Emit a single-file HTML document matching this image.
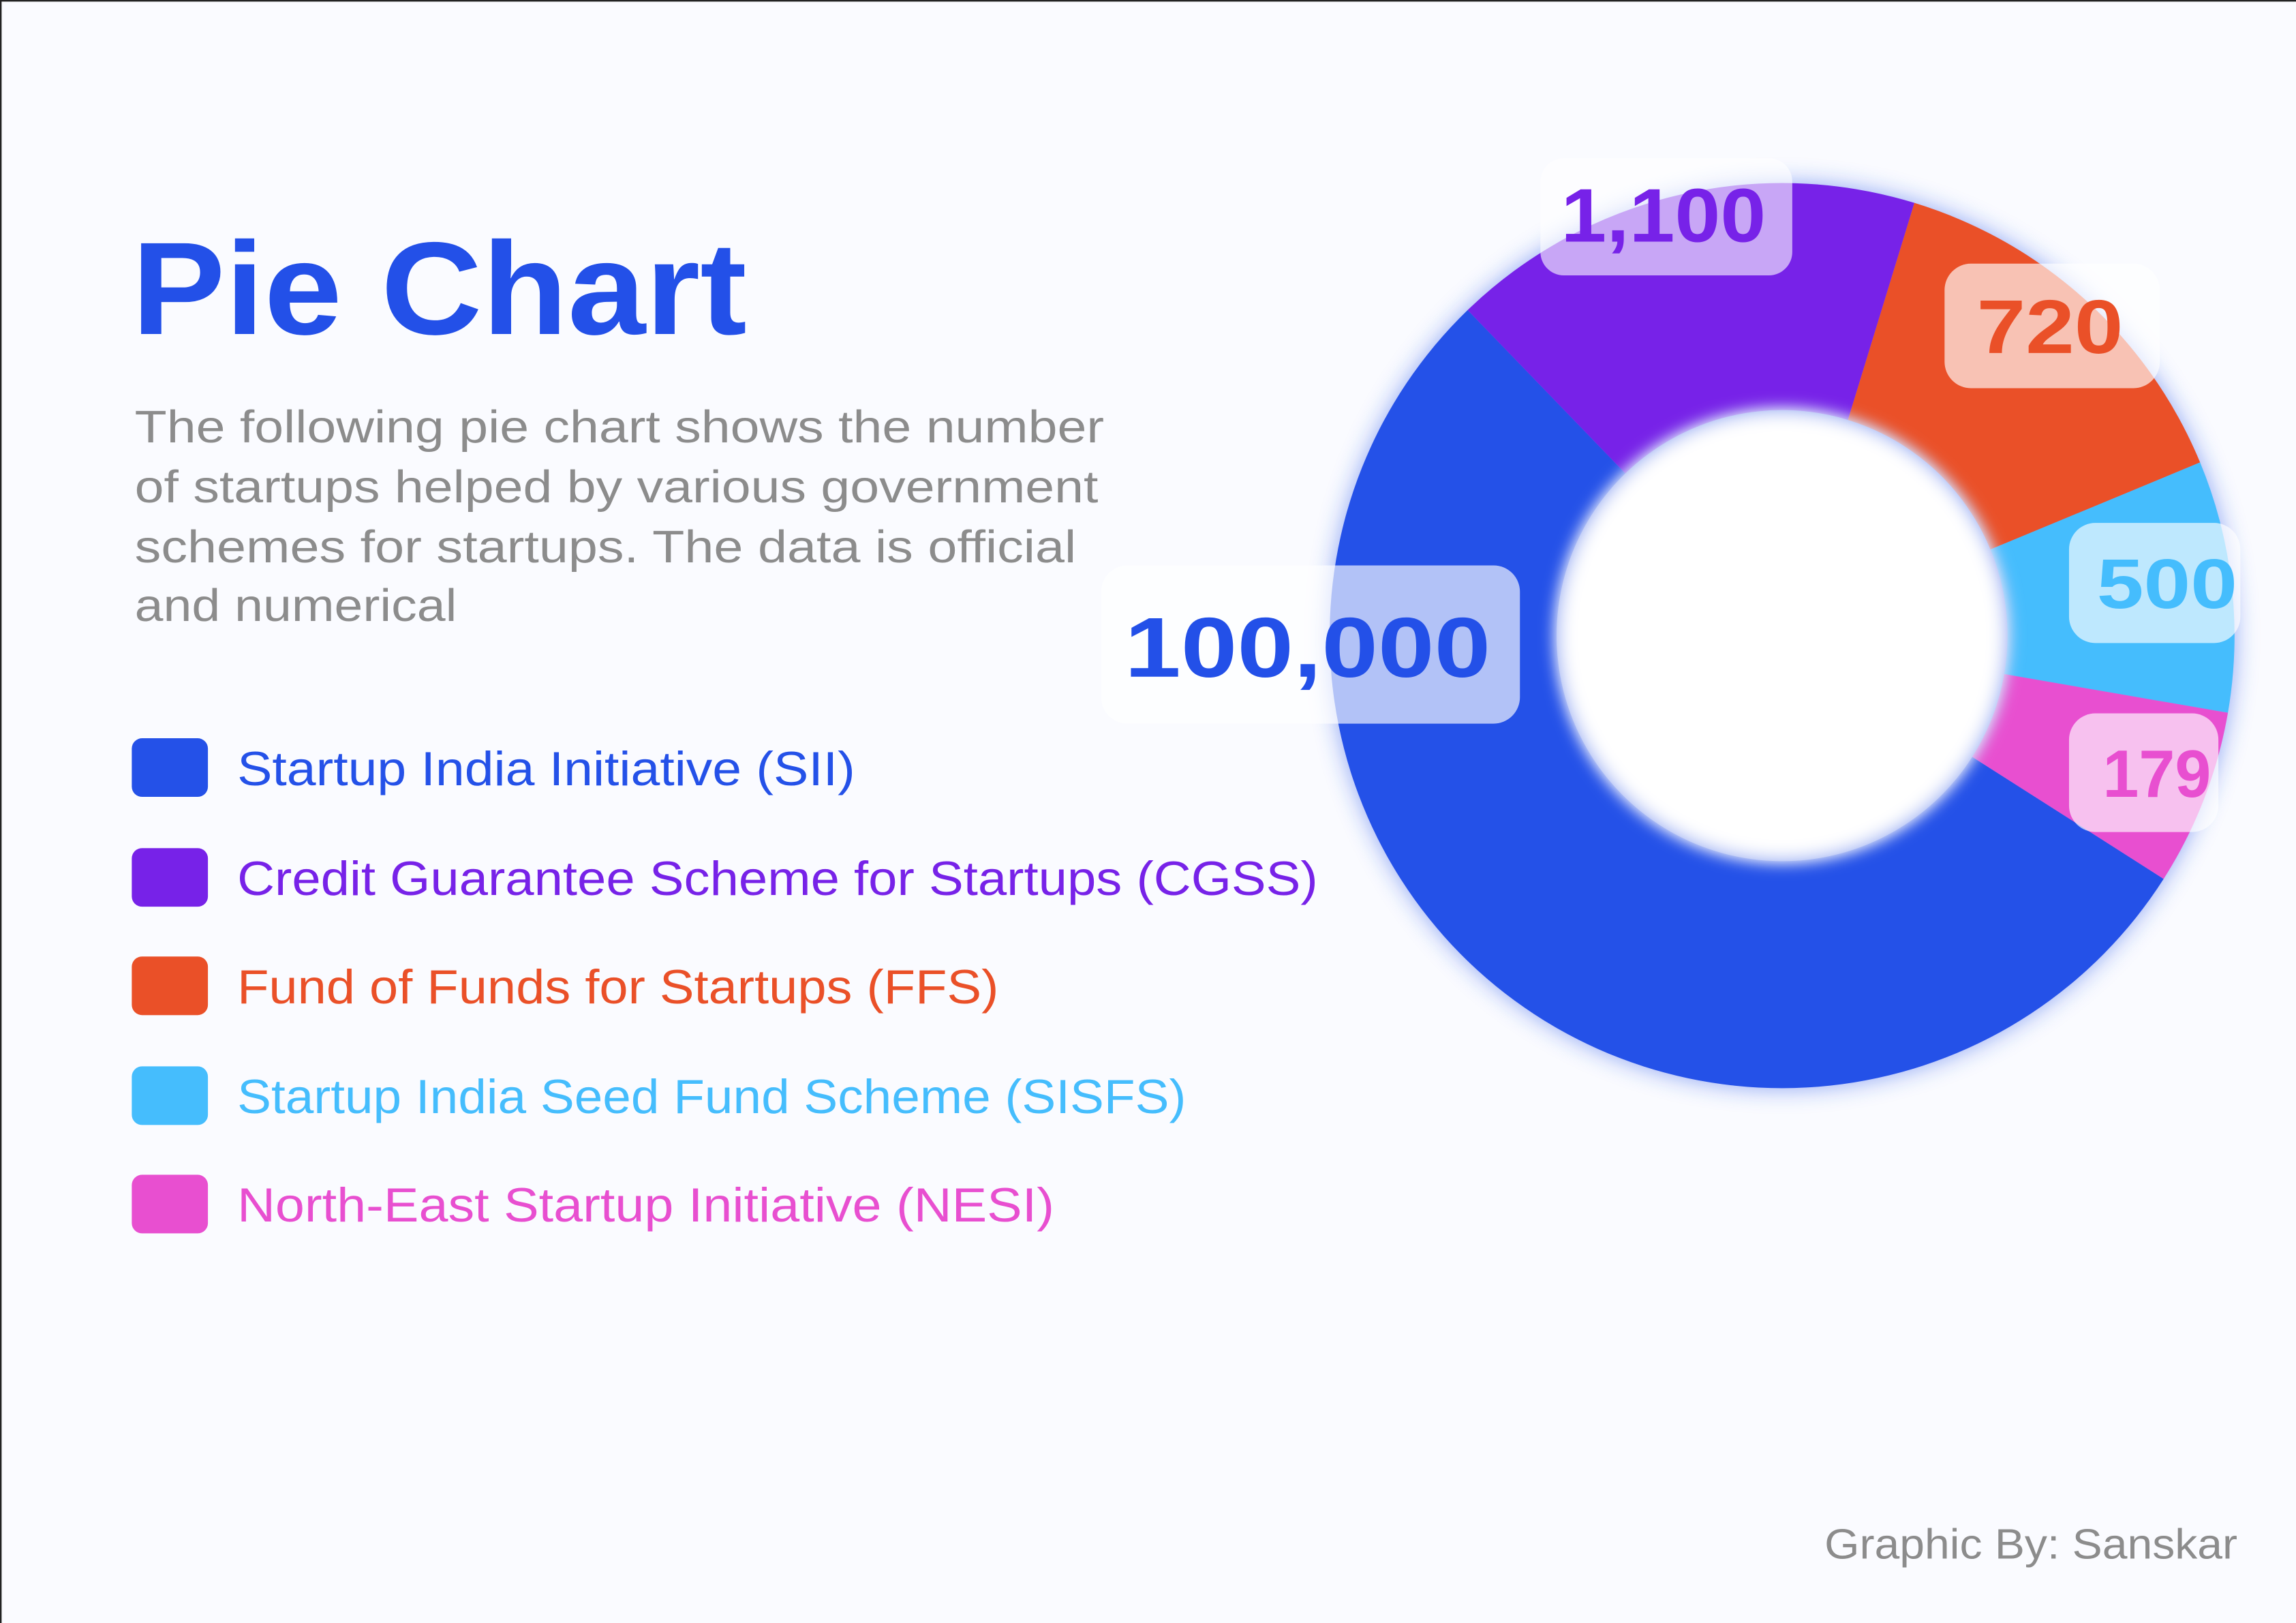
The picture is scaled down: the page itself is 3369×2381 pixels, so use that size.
<!DOCTYPE html>
<html><head><meta charset="utf-8"><style>
html,body{margin:0;padding:0;background:#fafbff;}
svg{display:block;}
</style></head><body>
<svg width="3369" height="2381" viewBox="0 0 1568 1108" preserveAspectRatio="none" xmlns="http://www.w3.org/2000/svg">
<defs>
<filter id="b1" x="-20%" y="-20%" width="140%" height="140%"><feGaussianBlur stdDeviation="8"/></filter>
<filter id="b2" x="-20%" y="-20%" width="140%" height="140%"><feGaussianBlur stdDeviation="5"/></filter>
</defs>
<rect x="0" y="0" width="1568" height="1108" fill="#fafbff"/>
<rect x="0.5" y="0.5" width="1580" height="1120" fill="none" stroke="#222" stroke-width="1.2"/>

<text x="90" y="228" font-family="Liberation Sans, sans-serif" font-weight="bold" font-size="90" fill="#2350e8" textLength="420" lengthAdjust="spacingAndGlyphs">Pie Chart</text>
<g font-family="Liberation Sans, sans-serif" font-size="31" fill="#8c8c8c">
<text x="92" y="302" textLength="662" lengthAdjust="spacingAndGlyphs">The following pie chart shows the number</text>
<text x="92" y="343" textLength="658" lengthAdjust="spacingAndGlyphs">of startups helped by various government</text>
<text x="92" y="384" textLength="643" lengthAdjust="spacingAndGlyphs">schemes for startups. The data is official</text>
<text x="92" y="424" textLength="220" lengthAdjust="spacingAndGlyphs">and numerical</text>
</g>

<g font-family="Liberation Sans, sans-serif" font-size="33">
<rect x="90" y="504" width="52" height="40" rx="7" fill="#2451e8"/>
<text x="162" y="536" fill="#2451e8" textLength="422" lengthAdjust="spacingAndGlyphs">Startup India Initiative (SII)</text>
<rect x="90" y="579" width="52" height="40" rx="7" fill="#7722e8"/>
<text x="162" y="611" fill="#7722e8" textLength="738" lengthAdjust="spacingAndGlyphs">Credit Guarantee Scheme for Startups (CGSS)</text>
<rect x="90" y="653" width="52" height="40" rx="7" fill="#ea5028"/>
<text x="162" y="685" fill="#ea5028" textLength="520" lengthAdjust="spacingAndGlyphs">Fund of Funds for Startups (FFS)</text>
<rect x="90" y="728" width="52" height="40" rx="7" fill="#45bdfd"/>
<text x="162" y="760" fill="#45bdfd" textLength="648" lengthAdjust="spacingAndGlyphs">Startup India Seed Fund Scheme (SISFS)</text>
<rect x="90" y="802" width="52" height="40" rx="7" fill="#e84fd0"/>
<text x="162" y="834" fill="#e84fd0" textLength="558" lengthAdjust="spacingAndGlyphs">North-East Startup Initiative (NESI)</text>
</g>

<g id="donut">
<g filter="url(#b1)" opacity="0.5">
<circle cx="1217" cy="434" r="309" fill="#2451e8"/>
</g>
<path d="M1477.6,600 A309,309 0 1 1 1002.3,211.7 L1110,323.2 A154,154 0 1 0 1346.9,516.7 Z" fill="#2451e8"/>
<path d="M1002.3,211.7 A309,309 0 0 1 1307.4,138.5 L1262,286.7 A154,154 0 0 0 1110,323.2 Z" fill="#7722e8"/>
<path d="M1307.4,138.5 A309,309 0 0 1 1502.5,315.7 L1359.3,375.1 A154,154 0 0 0 1262,286.7 Z" fill="#ea5028"/>
<path d="M1502.5,315.7 A309,309 0 0 1 1521.5,486.6 L1368.7,460.2 A154,154 0 0 0 1359.3,375.1 Z" fill="#45bdfd"/>
<path d="M1521.5,486.6 A309,309 0 0 1 1477.6,600 L1346.9,516.7 A154,154 0 0 0 1368.7,460.2 Z" fill="#e84fd0"/>
<circle cx="1217" cy="434" r="156" fill="#c9d3f8" filter="url(#b2)"/>
<circle cx="1217" cy="434" r="150" fill="#ffffff" filter="url(#b2)"/>
</g>

<g font-family="Liberation Sans, sans-serif" font-weight="bold">
<rect x="752" y="386" width="286" height="108" rx="18" fill="#ffffff" opacity="0.65"/>
<text x="768" y="462" font-size="58" fill="#2350e8" textLength="250" lengthAdjust="spacingAndGlyphs">100,000</text>
<rect x="1052" y="108" width="172" height="80" rx="16" fill="#ffffff" opacity="0.6"/>
<text x="1066" y="165" font-size="52" fill="#7722e8" textLength="140" lengthAdjust="spacingAndGlyphs">1,100</text>
<rect x="1328" y="180" width="147" height="85" rx="18" fill="#ffffff" opacity="0.65"/>
<text x="1350" y="241" font-size="52" fill="#ea5028" textLength="100" lengthAdjust="spacingAndGlyphs">720</text>
<rect x="1413" y="357" width="117" height="82" rx="18" fill="#ffffff" opacity="0.65"/>
<text x="1432" y="415" font-size="48" fill="#45bdfd" textLength="96" lengthAdjust="spacingAndGlyphs">500</text>
<rect x="1413" y="487" width="102" height="81" rx="18" fill="#ffffff" opacity="0.65"/>
<text x="1436" y="544" font-size="46" fill="#e84fd0" textLength="74" lengthAdjust="spacingAndGlyphs">179</text>
</g>

<text x="1528" y="1064" text-anchor="end" font-family="Liberation Sans, sans-serif" font-size="29" fill="#8c8c8c" textLength="282" lengthAdjust="spacingAndGlyphs">Graphic By: Sanskar</text>
</svg>
</body></html>
